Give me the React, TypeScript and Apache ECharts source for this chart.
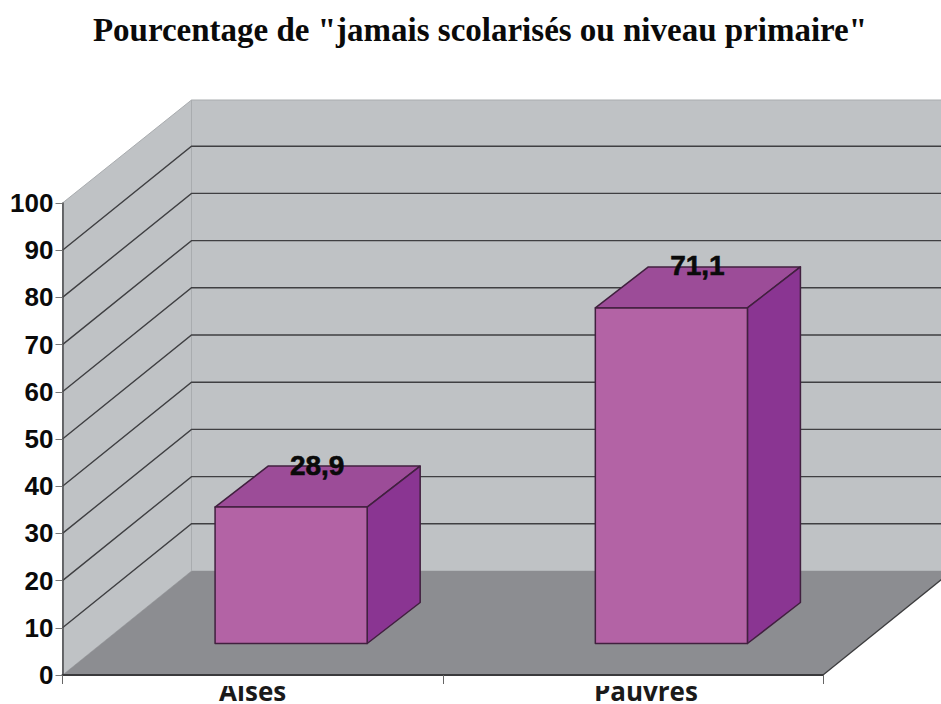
import React, { useEffect, useRef } from "react";
import * as echarts from "echarts";

const titleText = 'Pourcentage de "jamais scolarisés ou niveau primaire"';
const categories = ["Aisés", "Pauvres"];
const values = [28.9, 71.1];
const gridTicks = [10, 20, 30, 40, 50, 60, 70, 80, 90];

const DEPTH_X = 129;
const DEPTH_Y = 104;
const BAR_DX = 38.5;
const BAR_DY = 31.5;
const BAR_DEPTH_X = 53;
const BAR_DEPTH_Y = 41;

const renderWalls = (params: any) => {
  const c = params.coordSys;
  const l = c.x, r = c.x + c.width, t = c.y, b = c.y + c.height;
  return {
    type: "group",
    children: [
      {
        type: "polygon",
        shape: { points: [[l, t], [l + DEPTH_X, t - DEPTH_Y + 1], [l + DEPTH_X, b - DEPTH_Y], [l, b]] },
        style: { fill: "#bfc2c5", stroke: "#a9acaf", lineWidth: 1 },
      },
      {
        type: "polygon",
        shape: { points: [[l + DEPTH_X, t - DEPTH_Y + 1], [r + DEPTH_X, t - DEPTH_Y + 1], [r + DEPTH_X, b - DEPTH_Y], [l + DEPTH_X, b - DEPTH_Y]] },
        style: { fill: "#bfc2c5", stroke: "#a9acaf", lineWidth: 1 },
      },
      {
        type: "polygon",
        shape: { points: [[l, b], [r, b], [r + DEPTH_X, b - DEPTH_Y], [l + DEPTH_X, b - DEPTH_Y]] },
        style: { fill: "#8c8d91" },
      },
      {
        type: "line",
        shape: { x1: r, y1: b, x2: r + DEPTH_X, y2: b - DEPTH_Y },
        style: { stroke: "#3c3c3e", lineWidth: 1.3 },
      },
    ],
  };
};

const renderGridLine = (params: any, api: any) => {
  const c = params.coordSys;
  const y = api.coord([0, api.value(0)])[1];
  return {
    type: "polyline",
    shape: {
      points: [[c.x, y], [c.x + DEPTH_X, y - DEPTH_Y], [c.x + c.width + DEPTH_X, y - DEPTH_Y]],
    },
    style: { fill: "none", stroke: "#3f3f42", lineWidth: 1.4 },
  };
};

const renderBar = (_params: any, api: any) => {
  const idx = api.value(0);
  const v = api.value(1);
  const center = api.coord([idx, 0]);
  const topPt = api.coord([idx, v]);
  const w = api.size([1, 0])[0] * 0.4;
  const x0 = center[0] + BAR_DX - w / 2;
  const x1 = x0 + w;
  const yb = center[1] - BAR_DY;
  const yt = topPt[1] - BAR_DY;
  const stroke = { stroke: "#41203f", lineWidth: 1.5, lineJoin: "round" };
  return {
    type: "group",
    children: [
      {
        type: "polygon",
        shape: { points: [[x0, yt], [x1, yt], [x1 + BAR_DEPTH_X, yt - BAR_DEPTH_Y], [x0 + BAR_DEPTH_X, yt - BAR_DEPTH_Y]] },
        style: { fill: "#9c4c98", ...stroke },
      },
      {
        type: "polygon",
        shape: { points: [[x1, yt], [x1 + BAR_DEPTH_X, yt - BAR_DEPTH_Y], [x1 + BAR_DEPTH_X, yb - BAR_DEPTH_Y], [x1, yb]] },
        style: { fill: "#8a3592", ...stroke },
      },
      {
        type: "rect",
        shape: { x: x0, y: yt, width: w, height: yb - yt },
        style: { fill: "#b363a5", ...stroke },
      },
      {
        type: "text",
        x: (x0 + x1) / 2 + 26,
        y: yt - BAR_DEPTH_Y - 1,
        style: {
          text: String(v).replace(".", ","),
          fill: "#0a0a0a",
          stroke: "#0a0a0a",
          lineWidth: 0.6,
          font: 'bold 28px "Liberation Sans", Arial, sans-serif',
          align: "center",
          verticalAlign: "middle",
        },
      },
    ],
  };
};

export default function App() {
  const ref = useRef<HTMLDivElement>(null);
  useEffect(() => {
    document.body.style.margin = "0";
    const chart = echarts.init(ref.current!, undefined, { renderer: "svg" });
    chart.setOption({
      animation: false,
      backgroundColor: "#ffffff",
      title: {
        text: titleText,
        left: 475,
        top: 8,
        textAlign: "center",
        textStyle: { fontFamily: '"Liberation Serif", serif', fontWeight: "bold", fontSize: 33, color: "#0a0a0a" },
      },
      grid: { left: 62.5, right: 118, top: 203, bottom: 28.5, containLabel: false },
      xAxis: {
        type: "category",
        data: [
          { value: categories[0], textStyle: { padding: [0, 0, 0, 0] } },
          { value: categories[1], textStyle: { padding: [0, 0, 0, 26] } },
        ],
        z: 10,
        axisLine: { lineStyle: { color: "#3a3a3c", width: 2 } },
        axisTick: { show: true, length: 9, lineStyle: { color: "#666666", width: 1 } },
        axisLabel: {
          margin: 3,
          fontFamily: '"Open Sans", sans-serif',
          fontWeight: "bold",
          fontSize: 26,
          color: "#1a1a1a",
        },
      },
      yAxis: {
        type: "value",
        min: 0,
        max: 100,
        interval: 10,
        z: 10,
        splitLine: { show: false },
        axisLine: { show: true, lineStyle: { color: "#4a4a4c", width: 1.5 } },
        axisTick: { show: true, length: 7, lineStyle: { color: "#777777", width: 1 } },
        axisLabel: {
          margin: 9,
          fontFamily: '"Liberation Sans", Arial, sans-serif',
          fontWeight: "bold",
          fontSize: 26,
          color: "#0a0a0a",
        },
      },
      graphic: [
        { type: "rect", z: 100, shape: { x: 205, y: 677.5, width: 95, height: 8.5 }, style: { fill: "#ffffff" } },
        { type: "rect", z: 100, shape: { x: 585, y: 677.5, width: 125, height: 8.5 }, style: { fill: "#ffffff" } },
      ],
      series: [
        { type: "custom", z: 1, silent: true, data: [[0]], renderItem: renderWalls },
        { type: "custom", z: 2, silent: true, data: gridTicks.map((t) => [t]), encode: { y: 0 }, renderItem: renderGridLine },
        { type: "custom", z: 5, silent: true, data: values.map((v, i) => [i, v]), encode: { x: 0, y: 1 }, renderItem: renderBar },
      ],
    });
    return () => chart.dispose();
  }, []);
  return <div ref={ref} style={{ width: 941, height: 704 }} />;
}
